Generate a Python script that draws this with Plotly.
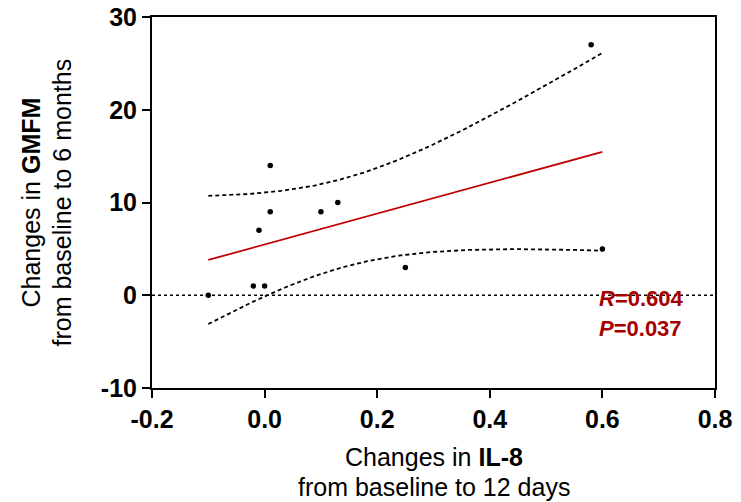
import numpy as np
import plotly.graph_objects as go

# Data
il8_change = [-0.10, -0.02, 0.00, -0.01, 0.01, 0.01, 0.10, 0.13, 0.25, 0.58, 0.60]
gmfm_change = [0, 1, 1, 7, 14, 9, 9, 10, 3, 27, 5]
x_ticks = [-0.2, 0.0, 0.2, 0.4, 0.6, 0.8]
x_tick_labels = ["-0.2", "0.0", "0.2", "0.4", "0.6", "0.8"]
y_ticks = [-10, 0, 10, 20, 30]
y_tick_labels = ["-10", "0", "10", "20", "30"]
r_value = "0.604"
p_value = "0.037"

x = np.array(il8_change, dtype=float)
y = np.array(gmfm_change, dtype=float)
n = len(x)
slope, intercept = np.polyfit(x, y, 1)
resid = y - (slope * x + intercept)
s = np.sqrt(np.sum(resid ** 2) / (n - 2))
sxx = np.sum((x - x.mean()) ** 2)
t_crit = 2.262  # t(0.975, df=9)
xg = np.linspace(x.min(), x.max(), 120)
yfit = slope * xg + intercept
half = t_crit * s * np.sqrt(1.0 / n + (xg - x.mean()) ** 2 / sxx)

FONT = "Arial, Liberation Sans, sans-serif"
RED = "#C00000"
TXT_RED = "#A50000"

fig = go.Figure()
fig.add_trace(go.Scatter(x=[x_ticks[0], x_ticks[-1]], y=[0, 0], mode="lines",
                         line=dict(color="black", width=1.5, dash="dot"),
                         hoverinfo="skip", showlegend=False))
fig.add_trace(go.Scatter(x=xg, y=yfit + half, mode="lines",
                         line=dict(color="black", width=1.8, dash="4px,3px"),
                         showlegend=False))
fig.add_trace(go.Scatter(x=xg, y=yfit - half, mode="lines",
                         line=dict(color="black", width=1.8, dash="4px,3px"),
                         showlegend=False))
fig.add_trace(go.Scatter(x=xg, y=yfit, mode="lines",
                         line=dict(color=RED, width=1.8), showlegend=False))
fig.add_trace(go.Scatter(x=x, y=y, mode="markers",
                         marker=dict(color="black", size=5.5), showlegend=False))

axis_common = dict(showline=True, linecolor="black", linewidth=2, mirror=True,
                   ticks="outside", ticklen=8, tickwidth=2, tickcolor="black",
                   showgrid=False, zeroline=False, automargin=False,
                   ticklabeloverflow="allow",
                   tickfont=dict(family=FONT, size=25, color="black", weight="bold"))
fig.update_xaxes(range=[x_ticks[0], x_ticks[-1]], tickvals=x_ticks,
                 ticktext=x_tick_labels, **axis_common)
fig.update_yaxes(range=[y_ticks[0], y_ticks[-1]], tickvals=y_ticks,
                 ticktext=y_tick_labels, **axis_common)

title_font = dict(family=FONT, size=25, color="black")
ann = [
    dict(text="Changes in <b>IL-8</b>", xref="paper", yref="paper", x=0.5, y=0,
         yshift=-69, xanchor="center", yanchor="middle", showarrow=False, font=title_font),
    dict(text="from baseline to 12 days", xref="paper", yref="paper", x=0.5, y=0,
         yshift=-99, xanchor="center", yanchor="middle", showarrow=False, font=title_font),
    dict(text="Changes in <b>GMFM</b>", xref="paper", yref="paper", x=0, y=0.5,
         xshift=-122, xanchor="center", yanchor="middle", textangle=-90,
         showarrow=False, font=title_font),
    dict(text="from baseline to 6 months", xref="paper", yref="paper", x=0, y=0.5,
         xshift=-91, xanchor="center", yanchor="middle", textangle=-90,
         showarrow=False, font=title_font),
    dict(text="<b><i>R</i>=" + r_value + "</b>", xref="x", yref="y", x=0.59, y=-0.3,
         xanchor="left", yanchor="middle", showarrow=False,
         font=dict(family=FONT, size=22, color=TXT_RED)),
    dict(text="<b><i>P</i>=" + p_value + "</b>", xref="x", yref="y", x=0.59, y=-3.55,
         xanchor="left", yanchor="middle", showarrow=False,
         font=dict(family=FONT, size=22, color=TXT_RED)),
]
fig.update_layout(template="none", width=741, height=502,
                  margin=dict(l=152, r=26, t=17, b=114, autoexpand=False),
                  plot_bgcolor="white", paper_bgcolor="white", annotations=ann,
                  font=dict(family=FONT))
# remove the browser's default 8px body margin so the figure sits at the page origin
fig.write_html("out.html", config={"displayModeBar": False},
               post_script="document.body.style.margin='0';document.body.style.overflow='hidden';")
